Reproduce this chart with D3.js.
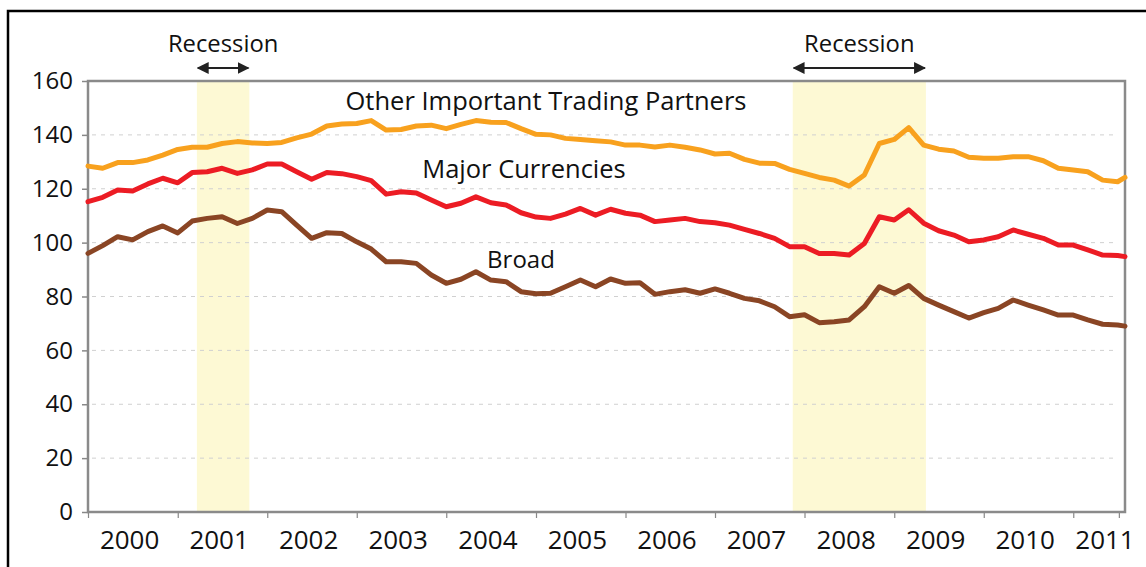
<!DOCTYPE html>
<html>
<head>
<meta charset="utf-8">
<script src="https://cdn.jsdelivr.net/npm/d3@7"></script>
<style>
    body { margin: 0; background: #fff; }
    svg { display: block; font-family: "Open Sans", sans-serif; }
</style>
</head>
<body>
<div id="chart"></div>
<script>
// bimonthly readings, Jan 2000 .. Jul 2011, plus the last point at the right edge
const dates = [
    "2000-01-01", "2000-03-01", "2000-05-01", "2000-07-01", "2000-09-01", "2000-11-01",
    "2001-01-01", "2001-03-01", "2001-05-01", "2001-07-01", "2001-09-01", "2001-11-01",
    "2002-01-01", "2002-03-01", "2002-05-01", "2002-07-01", "2002-09-01", "2002-11-01",
    "2003-01-01", "2003-03-01", "2003-05-01", "2003-07-01", "2003-09-01", "2003-11-01",
    "2004-01-01", "2004-03-01", "2004-05-01", "2004-07-01", "2004-09-01", "2004-11-01",
    "2005-01-01", "2005-03-01", "2005-05-01", "2005-07-01", "2005-09-01", "2005-11-01",
    "2006-01-01", "2006-03-01", "2006-05-01", "2006-07-01", "2006-09-01", "2006-11-01",
    "2007-01-01", "2007-03-01", "2007-05-01", "2007-07-01", "2007-09-01", "2007-11-01",
    "2008-01-01", "2008-03-01", "2008-05-01", "2008-07-01", "2008-09-01", "2008-11-01",
    "2009-01-01", "2009-03-01", "2009-05-01", "2009-07-01", "2009-09-01", "2009-11-01",
    "2010-01-01", "2010-03-01", "2010-05-01", "2010-07-01", "2010-09-01", "2010-11-01",
    "2011-01-01", "2011-03-01", "2011-05-01", "2011-07-01", "2011-07-31"
]

const otherPartners = [
    128.4, 127.6, 129.7, 129.7, 130.7, 132.5,
    134.6, 135.4, 135.4, 136.8, 137.5, 137.0,
    136.8, 137.2, 138.9, 140.3, 143.3, 144.0,
    144.2, 145.3, 141.8, 142.0, 143.3, 143.6,
    142.3, 143.9, 145.3, 144.7, 144.6, 142.3,
    140.2, 140.0, 138.7, 138.3, 137.8, 137.4,
    136.2, 136.2, 135.5, 136.2, 135.4, 134.4,
    132.9, 133.2, 130.9, 129.5, 129.4, 127.2,
    125.7, 124.2, 123.2, 121.0, 125.1, 136.8,
    138.3, 142.7, 136.2, 134.7, 134.0, 131.7,
    131.3, 131.3, 131.9, 131.9, 130.4, 127.6,
    127.0, 126.3, 123.2, 122.6, 124.2
]

const majorCurrencies = [
    115.2, 116.8, 119.5, 119.2, 121.8, 123.9,
    122.2, 126.0, 126.3, 127.6, 125.7, 127.0,
    129.2, 129.2, 126.3, 123.5, 126.0, 125.6,
    124.5, 123.0, 118.0, 118.9, 118.4, 115.8,
    113.3, 114.6, 117.0, 114.8, 114.0, 111.1,
    109.5, 109.0, 110.6, 112.7, 110.2, 112.4,
    110.9, 110.2, 107.8, 108.4, 109.0, 107.8,
    107.4, 106.5, 104.9, 103.4, 101.6, 98.5,
    98.5, 96.0, 96.0, 95.4, 99.7, 109.6,
    108.4, 112.2, 107.2, 104.4, 102.8, 100.3,
    101.0, 102.2, 104.7, 103.1, 101.6, 99.1,
    99.1, 97.3, 95.4, 95.2, 94.8
]

const broad = [
    96.0, 98.9, 102.2, 101.0, 104.1, 106.2,
    103.6, 108.0, 109.0, 109.6, 107.1, 109.0,
    112.1, 111.5, 106.5, 101.6, 103.7, 103.4,
    100.3, 97.6, 92.9, 92.9, 92.3, 88.0,
    84.9, 86.4, 89.2, 86.1, 85.5, 81.8,
    81.0, 81.2, 83.6, 86.1, 83.6, 86.5,
    84.9, 85.1, 80.8, 81.8, 82.5, 81.2,
    82.8, 81.2, 79.3, 78.4, 76.2, 72.5,
    73.2, 70.3, 70.6, 71.3, 76.2, 83.6,
    81.2, 84.1, 79.3, 76.8, 74.4, 72.0,
    74.0, 75.6, 78.7, 76.8, 75.0, 73.1,
    73.1, 71.3, 69.7, 69.4, 69.0
]

const seriesNames = ["Other Important Trading Partners", "Major Currencies", "Broad"]
const yTicks = [0, 20, 40, 60, 80, 100, 120, 140, 160]
const yearLabels = ["2000", "2001", "2002", "2003", "2004", "2005", "2006", "2007", "2008", "2009", "2010", "2011"]
const recessionStart = ["2001-03-20", "2007-11-14"]
const recessionEnd = ["2001-10-20", "2009-05-10"]

class FxChart {
    constructor(_parent) {
        this.parent = _parent
        this.width = 1146
        this.height = 567
        this.margin = {left: 88, top: 81, right: 21, bottom: 55}
        this.colors = ["#f8a11e", "#ec1c24", "#8a4524"]
        this.initVis()
    }

    initVis() {
        const vis = this
        vis.svg = d3.select(vis.parent).append("svg")
            .attr("width", vis.width)
            .attr("height", vis.height)

        vis.x = d3.scaleTime()
            .domain([new Date(2000, 0, 1), new Date(2011, 6, 31)])
            .range([vis.margin.left, vis.width - vis.margin.right])
        vis.y = d3.scaleLinear()
            .domain([0, 160])
            .range([512, vis.margin.top])

        vis.parse = d3.timeParse("%Y-%m-%d")
        vis.series = [otherPartners, majorCurrencies, broad].map((vals, i) => ({
            name: seriesNames[i],
            color: vis.colors[i],
            points: vals.map((v, j) => ({date: vis.parse(dates[j]), value: v}))
        }))
        vis.renderVis()
    }

    renderVis() {
        const vis = this
        const x0 = vis.x.range()[0], x1 = vis.x.range()[1]
        const yb = vis.y(0), yt = vis.y(160)

        // outer frame (cut off at right and bottom)
        vis.svg.append("rect")
            .attr("x", 8).attr("y", 11)
            .attr("width", vis.width + 20).attr("height", vis.height + 20)
            .attr("fill", "none").attr("stroke", "#000").attr("stroke-width", 2.5)

        // recession bands
        const rec = recessionStart.map((s, i) => [vis.parse(s), vis.parse(recessionEnd[i])])
        vis.svg.selectAll(".band").data(rec).join("rect")
            .attr("class", "band")
            .attr("x", d => vis.x(d[0]))
            .attr("width", d => vis.x(d[1]) - vis.x(d[0]))
            .attr("y", yt).attr("height", yb - yt)
            .attr("fill", "#fdf9d4")

        // gridlines
        vis.svg.selectAll(".grid").data(yTicks.filter(t => t > 0 && t < 160)).join("line")
            .attr("class", "grid")
            .attr("x1", x0 + 4).attr("x2", x1 - 8)
            .attr("y1", d => vis.y(d)).attr("y2", d => vis.y(d))
            .attr("stroke", "#d0d0d0").attr("stroke-width", 1)
            .attr("stroke-dasharray", "4,5")

        // y axis
        const yAxis = d3.axisLeft(vis.y).tickValues(yTicks).tickSize(6).tickPadding(9)
        const yg = vis.svg.append("g").attr("transform", `translate(${x0},0)`).call(yAxis)
        yg.select(".domain").remove()
        yg.selectAll(".tick line").attr("stroke", "#888").attr("stroke-width", 1.5)
        yg.selectAll(".tick text")
            .attr("fill", "#111").style("font-size", "24px")
            .style("font-family", "'Open Sans', sans-serif")

        // x axis: ticks at year starts, labels centred in each year
        const yearStarts = yearLabels.map(y => new Date(+y, 0, 1)).concat([new Date(2011, 6, 6)])
        const xAxis = d3.axisBottom(vis.x).tickValues(yearStarts).tickSize(6).tickFormat("")
        const xg = vis.svg.append("g").attr("transform", `translate(0,${yb})`).call(xAxis)
        xg.select(".domain").remove()
        xg.selectAll(".tick line").attr("stroke", "#888").attr("stroke-width", 1.2)

        vis.svg.selectAll(".year").data(yearLabels).join("text")
            .attr("class", "year")
            .attr("x", d => Math.min(vis.x(new Date(+d, 6, 1)) - 3, x1 - 20))
            .attr("y", 549)
            .attr("text-anchor", "middle")
            .attr("fill", "#111")
            .style("font-size", "26px")
            .text(d => d)

        // plot frame
        vis.svg.append("rect")
            .attr("x", x0).attr("y", yt)
            .attr("width", x1 - x0).attr("height", yb - yt)
            .attr("fill", "none").attr("stroke", "#8a8a8a").attr("stroke-width", 2.5)

        // series lines
        const line = d3.line()
            .x(d => vis.x(d.date))
            .y(d => vis.y(d.value))
        vis.svg.selectAll(".series").data(vis.series).join("path")
            .attr("class", "series")
            .attr("d", d => line(d.points))
            .attr("fill", "none")
            .attr("stroke", d => d.color)
            .attr("stroke-width", 5)
            .attr("stroke-linejoin", "round")
            .attr("stroke-linecap", "round")

        // series names
        const namePos = [[546, 110], [524, 178], [521, 268]]
        const nameSize = [25.5, 25.5, 24]
        vis.svg.selectAll(".sname").data(seriesNames).join("text")
            .attr("class", "sname")
            .attr("x", (d, i) => namePos[i][0])
            .attr("y", (d, i) => namePos[i][1])
            .attr("text-anchor", "middle")
            .attr("fill", "#111")
            .style("font-size", (d, i) => nameSize[i] + "px")
            .text(d => d)

        // recession labels with double arrows
        const defs = vis.svg.append("defs")
        ;["head-end", "head-start"].forEach((id, k) => {
            defs.append("marker")
                .attr("id", id)
                .attr("viewBox", "0 0 10 10")
                .attr("refX", 9).attr("refY", 5)
                .attr("markerWidth", 6).attr("markerHeight", 6)
                .attr("orient", k === 0 ? "auto" : "auto-start-reverse")
                .append("path").attr("d", "M0,0L10,5L0,10Z").attr("fill", "#222")
        })
        const rg = vis.svg.selectAll(".rlabel").data(rec).join("g").attr("class", "rlabel")
        rg.append("line")
            .attr("x1", d => vis.x(d[0]) + 1).attr("x2", d => vis.x(d[1]) - 1)
            .attr("y1", 68).attr("y2", 68)
            .attr("stroke", "#222").attr("stroke-width", 2)
            .attr("marker-end", "url(#head-end)")
            .attr("marker-start", "url(#head-start)")
        rg.append("text")
            .attr("x", d => (vis.x(d[0]) + vis.x(d[1])) / 2)
            .attr("y", 52)
            .attr("text-anchor", "middle")
            .attr("fill", "#111")
            .style("font-size", "23.8px")
            .text("Recession")
    }
}

new FxChart("#chart")
</script>
</body>
</html>
